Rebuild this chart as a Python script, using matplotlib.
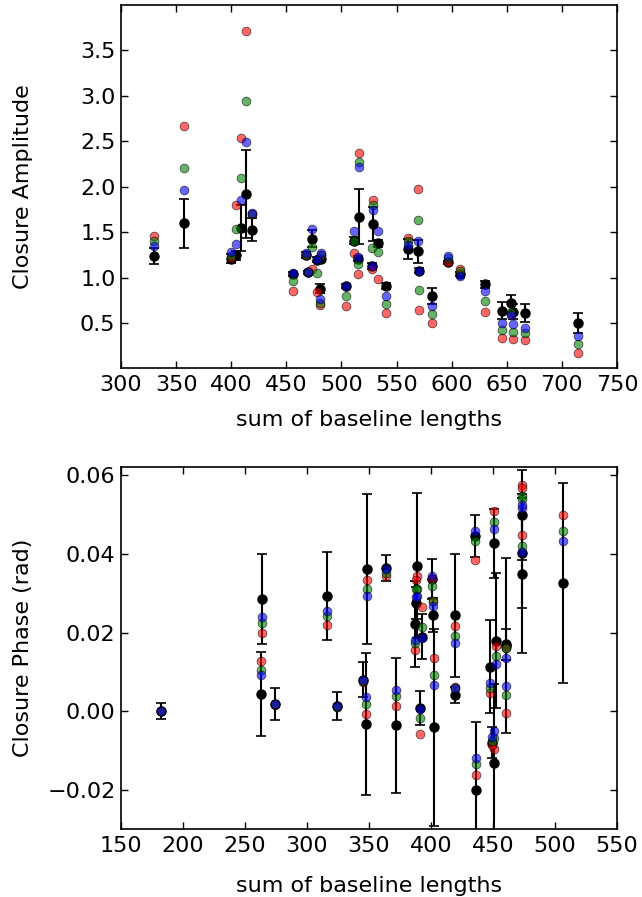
import matplotlib
matplotlib.use("Agg")
import matplotlib.pyplot as plt

# closure amplitudes
amp_x = [330, 357, 400, 404, 409, 413, 419, 456.5, 468, 470, 473, 477.7, 481, 481.6,
         504, 511, 516.3, 515.4, 528.4, 527.8, 533.5, 540.5, 560.7, 569.8, 570.7, 582.5,
         597, 607.5, 630, 646, 654.3, 656, 666.4, 714.7]
amp_red = [1.46, 2.67, 1.22, 1.80, 2.54, 3.71, 1.70, 0.86, 1.25, 1.06, 1.10, 0.84, 0.70, 1.25,
           0.69, 1.27, 2.37, 1.04, 1.85, 1.10, 0.99, 0.61, 1.44, 1.97, 0.65, 0.50,
           1.17, 1.10, 0.63, 0.34, 0.60, 0.33, 0.32, 0.18]
amp_green = [1.40, 2.21, 1.24, 1.54, 2.10, 2.94, 1.70, 0.97, 1.25, 1.06, 1.34, 1.05, 0.72, 1.25,
             0.80, 1.40, 2.27, 1.15, 1.80, 1.33, 1.28, 0.71, 1.40, 1.63, 0.87, 0.60,
             1.22, 1.07, 0.75, 0.43, 0.62, 0.41, 0.39, 0.27]
amp_blue = [1.35, 1.96, 1.28, 1.37, 1.86, 2.49, 1.71, 1.05, 1.27, 1.06, 1.54, 1.21, 0.77, 1.27,
            0.91, 1.51, 2.22, 1.23, 1.74, 1.13, 1.51, 0.80, 1.36, 1.41, 1.08, 0.69,
            1.24, 1.02, 0.86, 0.50, 0.59, 0.49, 0.45, 0.36]
amp_obs = [1.24, 1.60, 1.21, 1.25, 1.55, 1.92, 1.53, 1.04, 1.25, 1.06, 1.43, 1.20, 0.88, 1.21,
           0.91, 1.41, 1.67, 1.21, 1.59, 1.13, 1.38, 0.91, 1.32, 1.29, 1.08, 0.80,
           1.17, 1.04, 0.93, 0.64, 0.72, 0.63, 0.61, 0.50]
amp_err = [0.09, 0.27, 0.05, 0.05, 0.25, 0.48, 0.13, 0.02, 0.03, 0.02, 0.09, 0.03, 0.05, 0.03,
           0.02, 0.04, 0.30, 0.03, 0.19, 0.03, 0.04, 0.03, 0.11, 0.13, 0.03, 0.09,
           0.02, 0.02, 0.04, 0.09, 0.09, 0.08, 0.10, 0.11]

# closure phases
ph_x = [182.4, 264, 263, 274, 316.3, 324.6, 348, 345.3, 347.2, 364, 371.4, 388.9, 387.5, 388,
        392.9, 391.5, 401, 401.5, 402.3, 419, 419.5, 435.9, 436, 450.6, 448, 452.3, 450.6,
        449.3, 460.3, 460.5, 473.5, 473.5, 473.5, 506.3]
ph_red = [0.0, 0.020, 0.0127, 0.0015, 0.0218, 0.0010, 0.0334, 0.0075, -0.0006, 0.0343, 0.0013,
          0.0343, 0.0155, 0.0333, 0.0266, -0.0057, 0.0336, 0.0279, 0.0136, 0.0216, 0.0061,
          0.0385, -0.0161, 0.0509, 0.0047, 0.0167, -0.0095, -0.0085, 0.0162, -0.0004,
          0.0575, 0.0448, 0.0567, 0.0499]
ph_green = [0.0, 0.0225, 0.0104, 0.0018, 0.0242, 0.0012, 0.031, 0.0077, 0.0019, 0.0352, 0.0038,
            0.031, 0.0174, 0.031, 0.0213, -0.0017, 0.0319, 0.0279, 0.0093, 0.0192, 0.0058,
            0.0432, -0.0135, 0.048, 0.0060, 0.014, -0.0068, -0.0075, 0.0160, 0.0041,
            0.0546, 0.0419, 0.0540, 0.0457]
ph_blue = [0.0, 0.024, 0.0091, 0.0019, 0.0256, 0.0013, 0.0294, 0.008, 0.0037, 0.0361, 0.0055,
           0.0292, 0.0182, 0.029, 0.0185, 0.0005, 0.0344, 0.0267, 0.0068, 0.0174, 0.0059,
           0.0459, -0.012, 0.0464, 0.0072, 0.0121, -0.0051, -0.0065, 0.0136, 0.0065,
           0.0516, 0.0405, 0.0525, 0.0433]
ph_obs = [0.0, 0.0286, 0.0044, 0.0019, 0.0293, 0.0013, 0.0362, 0.008, -0.0033, 0.0365, -0.0036,
          0.037, 0.0222, 0.0275, 0.019, 0.0009, 0.0336, 0.0245, -0.0041, 0.0244, 0.0042,
          0.0446, -0.0201, 0.0427, 0.0113, 0.0179, -0.0131, -0.008, 0.0167, 0.0170,
          0.0499, 0.0402, 0.035, 0.0327]
ph_err = [0.002, 0.0114, 0.0106, 0.004, 0.0112, 0.0036, 0.019, 0.0045, 0.018, 0.0033, 0.0172,
          0.0185, 0.011, 0.004, 0.0056, 0.0043, 0.005, 0.0043, 0.025, 0.0156, 0.002,
          0.0053, 0.0173, 0.0088, 0.0118, 0.0172, 0.02, 0.004, 0.0222, 0.004,
          0.0114, 0.014, 0.0202, 0.0254]


def panel(ax, x, red, green, blue, obs, err):
    ax.errorbar(x, obs, yerr=err, fmt='o', color='k', ms=6.5, mec='k',
                ecolor='k', elinewidth=1.5, capsize=3.6, capthick=1.2, zorder=2)
    for vals, c in [(red, 'r'), (green, 'g'), (blue, 'b')]:
        ax.plot(x, vals, 'o', color=c, ms=6.3, mec='k', mew=0.6, alpha=0.6,
                linestyle='none', zorder=3)
    ax.tick_params(direction='in', top=True, right=True, length=5, width=1,
                   labelsize=16)
    ax.tick_params(axis='x', pad=5)
    ax.tick_params(axis='y', pad=4)
    for s in ax.spines.values():
        s.set_linewidth(1.2)


fig = plt.figure(figsize=(6.42, 8.97), dpi=100)
ax1 = fig.add_axes([0.1885, 0.5897, 0.7725, 0.4042])
ax2 = fig.add_axes([0.1885, 0.0755, 0.7725, 0.4035])

panel(ax1, amp_x, amp_red, amp_green, amp_blue, amp_obs, amp_err)
ax1.set_xlim(300, 750)
ax1.set_ylim(0.01, 3.99)
ax1.set_xticks(range(300, 751, 50))
ax1.set_yticks([0.5, 1.0, 1.5, 2.0, 2.5, 3.0, 3.5])
ax1.set_xlabel('sum of baseline lengths', fontsize=16)
ax1.set_ylabel('Closure Amplitude', fontsize=16)
ax1.xaxis.set_label_coords(0.5, -0.115)
ax1.yaxis.set_label_coords(-0.177, 0.5)

panel(ax2, ph_x, ph_red, ph_green, ph_blue, ph_obs, ph_err)
ax2.set_xlim(150, 550)
ax2.set_ylim(-0.03, 0.062)
ax2.set_xticks(range(150, 551, 50))
ax2.set_yticks([-0.02, 0.0, 0.02, 0.04, 0.06])
ax2.set_yticklabels(['\u22120.02', '0.00', '0.02', '0.04', '0.06'])
ax2.set_xlabel('sum of baseline lengths', fontsize=16)
ax2.set_ylabel('Closure Phase (rad)', fontsize=16)
ax2.xaxis.set_label_coords(0.5, -0.13)
ax2.yaxis.set_label_coords(-0.177, 0.5)

fig.savefig('out.png', dpi=100)
